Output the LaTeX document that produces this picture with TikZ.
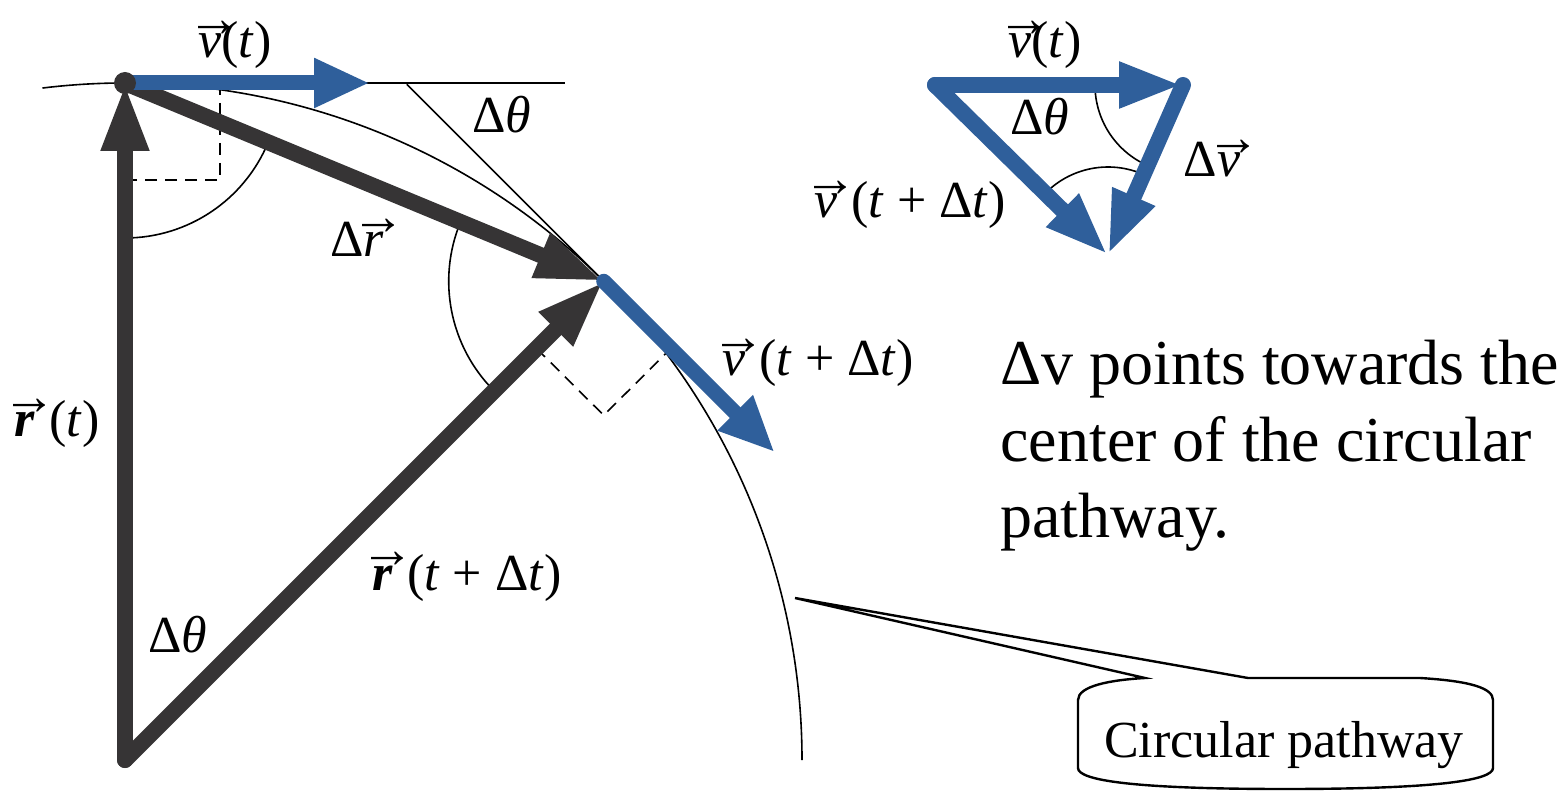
\documentclass[tikz,border=0pt]{standalone}
\usepackage{fontspec}
\setmainfont{Liberation Serif}
\usetikzlibrary{arrows.meta,calc}
\definecolor{vblue}{RGB}{47,95,155}
\definecolor{rdark}{RGB}{54,52,53}
% letter with a small arrow set above it
\newsavebox{\vecbox}
\newcommand{\vecof}[1]{\leavevmode\sbox{\vecbox}{#1}%
  \rlap{\raisebox{\dimexpr\ht\vecbox-1pt}[0pt][0pt]{\hbox to \wd\vecbox{\hss\kern5pt{\fontsize{27}{27}\selectfont →}\hss}}}%
  \usebox{\vecbox}}
\newcommand{\vgap}{\hspace{7pt}}

\begin{document}
\begin{tikzpicture}[
  x=0.5pt, y=-0.5pt,
  lbl/.style={font=\fontsize{26}{30}\selectfont, inner sep=0pt, anchor=base},
  guide/.style={line width=0.8pt},
  rightang/.style={line width=0.8pt, dash pattern=on 6pt off 4pt},
  rvec/.style={draw=rdark, line width=8pt, line cap=round, -{Triangle[length=34pt,width=22pt]}},
  vvec/.style={draw=vblue, line width=7.5pt, line cap=round, -{Triangle[length=28pt,width=23pt]}}
]
\useasboundingbox (0,0) rectangle (1564,791);

% main figure: centre and the two positions on the path
\coordinate (o) at (125,760);
\coordinate (p1) at ($(o)+(-90:677)$);
\coordinate (p2) at ($(o)+(-45:677)$);
\coordinate (vend) at ($(p2)+(171,171)$);
\coordinate (tan1) at (565,83);
\coordinate (tan2) at ($(p2)+(-197,-197)$);

% circular path and tangents
\draw[guide] ($(o)+(-97:677)$) arc[start angle=-97, end angle=0, radius=677];
\draw[guide] (p1) -- (tan1);
\draw[guide] (p2) -- (tan2);

% angle marks
\draw[guide] ($(p1)+(90:155)$) arc[start angle=90, end angle=22.5, radius=155];
\draw[guide] ($(p2)+(135:155)$) arc[start angle=135, end angle=202.5, radius=155];
\draw[rightang] ($(p1)+(95,0)$) -- ($(p1)+(95,97)$) -- ($(p1)+(0,97)$);
\draw[rightang] ($(p2)+(135:95)$) -- ($(p2)+(0,134)$) -- ($(p2)+(45:95)$);

% position and velocity vectors
\draw[rvec] (o) -- (p1);
\draw[rvec] (o) -- (p2);
\draw[rvec] (p1) -- (p2);
\draw[vvec] (p1) -- (370,83);
\draw[vvec] (p2) -- (vend);
\fill[rdark] (p1) circle[radius=11];

\node[lbl] (vt) at (235,58) {\vecof{\textit{v}}(\textit{t})};
\node[lbl] (dth1) at (502,133) {Δ\textit{θ}};
\node[lbl] (dr) at (357,257) {Δ\vecof{\textit{r}}};
\node[lbl] (rt) at (57,437) {\vecof{\textbf{\textit{r}}}\vgap(\textit{t})};
\node[lbl] (vtdt) at (818,376) {\vecof{\textit{v}}\vgap(\textit{t} + Δ\textit{t})};
\node[lbl] (rtdt) at (467,590) {\vecof{\textbf{\textit{r}}}\vgap(\textit{t} + Δ\textit{t})};
\node[lbl] (dth2) at (178,652) {Δ\textit{θ}};

% velocity triangle
\coordinate (a) at (935,85);
\coordinate (b) at (1183,85);
\coordinate (c) at (1108,255);
\draw[guide] ($(b)+(180:88)$) arc[start angle=180, end angle=113.8, radius=88];
\draw[guide] ($(c)+(224.5:88)$) arc[start angle=224.5, end angle=293.8, radius=88];
\draw[vvec, line width=8pt, -{Triangle[length=32pt,width=21pt]}] (a) -- (b);
\draw[vvec, line width=8pt, -{Triangle[length=32pt,width=21pt]}] (a) -- (c);
\draw[vvec, line width=8pt, -{Triangle[length=32pt,width=21pt]}] (b) -- (c);

\node[lbl] (vt2) at (1045,58) {\vecof{\textit{v}}(\textit{t})};
\node[lbl] (dth3) at (1040,135) {Δ\textit{θ}};
\node[lbl] (vtdt2) at (910,218) {\vecof{\textit{v}}\vgap(\textit{t} + Δ\textit{t})};
\node[lbl] (dv) at (1212,177) {Δ\vecof{\textit{v}}};

% explanation
\node[anchor=base west, inner sep=0pt, font=\fontsize{32}{38}\selectfont] (note1) at (1000,385) {Δv points towards the};
\node[anchor=base west, inner sep=0pt, font=\fontsize{32}{38}\selectfont] (note2) at (1000,461) {center of the circular};
\node[anchor=base west, inner sep=0pt, font=\fontsize{32}{38}\selectfont] (note3) at (1000,537) {pathway.};

% callout
\coordinate (tip) at (795,598);
\draw[line width=1.2pt] (1078,700) .. controls (1078,686) and (1110,680) .. (1145,678) -- (tip) -- (1248,678)
  -- (1420,678) .. controls (1470,681) and (1493,688) .. (1493,700) -- (1493,768)
  .. controls (1493,780) and (1440,789) .. (1285,789) .. controls (1130,789) and (1078,780) .. (1078,768) -- cycle;
\node[inner sep=0pt, font=\fontsize{26}{30}\selectfont, anchor=base] (path) at (1284,757) {Circular pathway};
\end{tikzpicture}
\end{document}
